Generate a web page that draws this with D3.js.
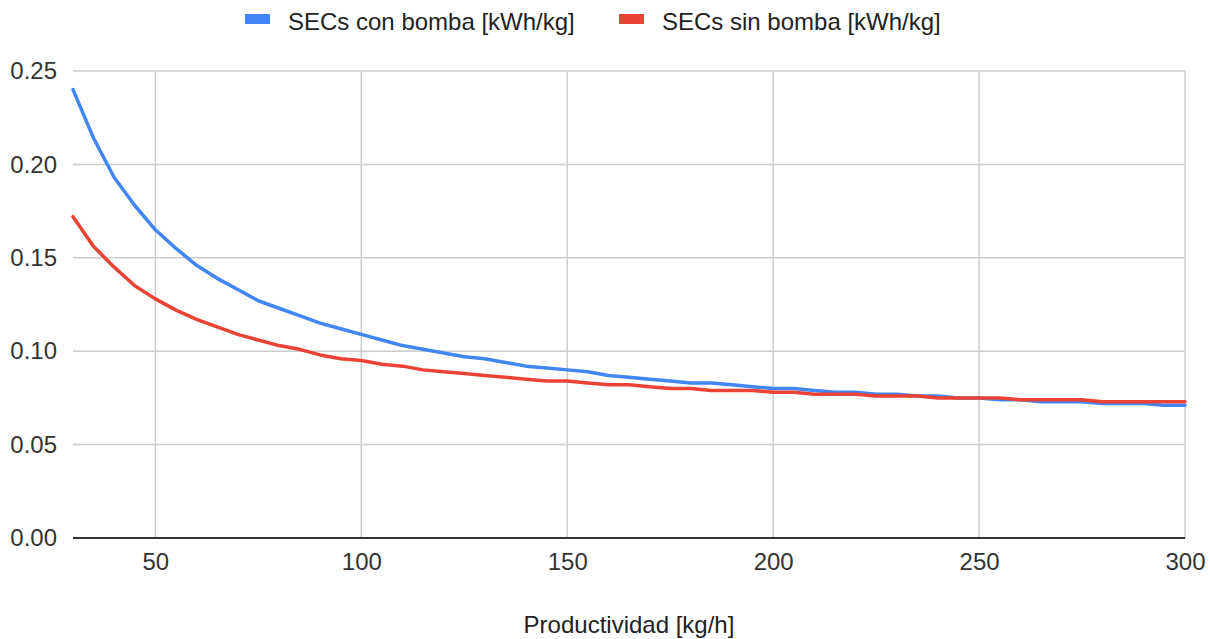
<!DOCTYPE html>
<html><head><meta charset="utf-8">
<script src="https://cdn.jsdelivr.net/npm/d3@7"></script>
<style>body{margin:0;background:#fff;}svg{display:block;font-family:"Liberation Sans",Arial,sans-serif;}</style>
</head><body><svg id="c" width="1210" height="639"></svg>
<script>
const productividad = [30,35,40,45,50,55,60,65,70,75,80,85,90,95,100,105,110,115,120,125,130,135,140,145,150,155,160,165,170,175,180,185,190,195,200,205,210,215,220,225,230,235,240,245,250,255,260,265,270,275,280,285,290,295,300];
const conBomba = [0.240,0.214,0.193,0.178,0.165,0.155,0.146,0.139,0.133,0.127,0.123,0.119,0.115,0.112,0.109,0.106,0.103,0.101,0.099,0.097,0.096,0.094,0.092,0.091,0.090,0.089,0.087,0.086,0.085,0.084,0.083,0.083,0.082,0.081,0.080,0.080,0.079,0.078,0.078,0.077,0.077,0.076,0.076,0.075,0.075,0.074,0.074,0.073,0.073,0.073,0.072,0.072,0.072,0.071,0.071];
const sinBomba = [0.172,0.156,0.145,0.135,0.128,0.122,0.117,0.113,0.109,0.106,0.103,0.101,0.098,0.096,0.095,0.093,0.092,0.090,0.089,0.088,0.087,0.086,0.085,0.084,0.084,0.083,0.082,0.082,0.081,0.080,0.080,0.079,0.079,0.079,0.078,0.078,0.077,0.077,0.077,0.076,0.076,0.076,0.075,0.075,0.075,0.075,0.074,0.074,0.074,0.074,0.073,0.073,0.073,0.073,0.073];
const xTicks = [50,100,150,200,250,300];
const yTicks = [0,0.05,0.10,0.15,0.20,0.25];
const seriesNames = ["SECs con bomba [kWh/kg]","SECs sin bomba [kWh/kg]"];
const colors = ["#4285F4","#EA4335"];
const xTitle = "Productividad [kg/h]";

const svg = d3.select("#c");
const L=73,R=1185,T=71,B=538;
const FS=24;
const x = d3.scaleLinear().domain([30,300]).range([L,R]);
const y = d3.scaleLinear().domain([0,0.25]).range([B,T]);

// grid
svg.append("g").selectAll("line").data(yTicks.filter(d=>d>0)).join("line")
  .attr("x1",L).attr("x2",R).attr("y1",d=>y(d)).attr("y2",d=>y(d))
  .attr("stroke","#cccccc").attr("stroke-width",1.5);
svg.append("g").selectAll("line").data(xTicks).join("line")
  .attr("x1",d=>x(d)).attr("x2",d=>x(d)).attr("y1",T).attr("y2",B)
  .attr("stroke","#cccccc").attr("stroke-width",1.5);

// axes labels
const yAxis = d3.axisLeft(y).tickValues(yTicks).tickFormat(d3.format(".2f")).tickSize(0).tickPadding(16);
const gy = svg.append("g").attr("transform",`translate(${L},0)`).call(yAxis);
gy.select(".domain").remove();
gy.selectAll("text").attr("font-size",FS).attr("fill","#333").attr("font-family","'Liberation Sans',Arial,sans-serif");

const xAxis = d3.axisBottom(x).tickValues(xTicks).tickFormat(d3.format("d")).tickSize(0).tickPadding(15);
const gx = svg.append("g").attr("transform",`translate(0,${B})`).call(xAxis);
gx.select(".domain").remove();
gx.selectAll("text").attr("font-size",FS).attr("fill","#333").attr("font-family","'Liberation Sans',Arial,sans-serif");

// baseline
svg.append("line").attr("x1",L).attr("x2",R).attr("y1",y(0)).attr("y2",y(0)).attr("stroke","#333").attr("stroke-width",2);

// lines
const line = d3.line().x((d,i)=>x(productividad[i])).y(d=>y(d));
[conBomba,sinBomba].forEach((s,k)=>{
  svg.append("path").datum(s).attr("d",line).attr("fill","none")
    .attr("stroke",colors[k]).attr("stroke-width",3.5).attr("stroke-linejoin","round").attr("stroke-linecap","round");
});

// legend
const leg = [{x:245,t:seriesNames[0],c:colors[0]},{x:619,t:seriesNames[1],c:colors[1]}];
leg.forEach(l=>{
  svg.append("rect").attr("x",l.x).attr("y",14).attr("width",25).attr("height",10).attr("fill",l.c);
  svg.append("text").attr("x",l.x+43).attr("y",30).attr("font-size",FS).attr("fill","#222").text(l.t);
});

svg.append("text").attr("x",629).attr("y",633).attr("text-anchor","middle").attr("font-size",FS).attr("fill","#222").text(xTitle);
</script></body></html>
